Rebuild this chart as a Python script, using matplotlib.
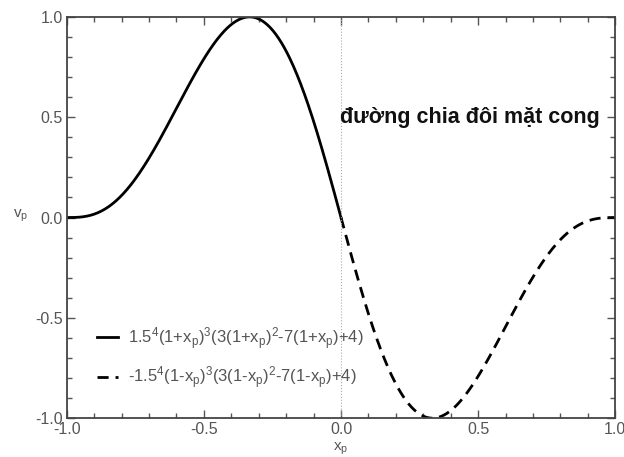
import numpy as np
import matplotlib
matplotlib.use("Agg")
import matplotlib.pyplot as plt
from matplotlib.ticker import MultipleLocator

plt.rcParams['font.family'] = ['Liberation Sans', 'DejaVu Sans']
plt.rcParams['mathtext.fontset'] = 'custom'
plt.rcParams['mathtext.rm'] = 'Liberation Sans'
plt.rcParams['mathtext.it'] = 'Liberation Sans'

# curve shape stated in the legend: v_p over the left and right halves
x_left = np.linspace(-1.0, 0.0, 300)
x_right = np.linspace(0.0, 1.0, 300)
v_left = 1.5**4 * (1 + x_left)**3 * (3*(1 + x_left)**2 - 7*(1 + x_left) + 4)
v_right = -1.5**4 * (1 - x_right)**3 * (3*(1 - x_right)**2 - 7*(1 - x_right) + 4)

lab_left = r"1.5$^\mathrm{4}$(1+x$_\mathrm{p}$)$^\mathrm{3}$(3(1+x$_\mathrm{p}$)$^\mathrm{2}$-7(1+x$_\mathrm{p}$)+4)"
lab_right = r"-1.5$^\mathrm{4}$(1-x$_\mathrm{p}$)$^\mathrm{3}$(3(1-x$_\mathrm{p}$)$^\mathrm{2}$-7(1-x$_\mathrm{p}$)+4)"
note = "đường chia đôi mặt cong"

GREY = "#555555"
fig = plt.figure(figsize=(6.24, 4.57), dpi=100)
ax = fig.add_axes([0.107, 0.085, 0.879, 0.878])

ax.plot(x_left, v_left, color="k", lw=2.0, label=lab_left)
ax.plot(x_right, v_right, color="k", lw=2.0, ls=(0, (4, 2.5)), label=lab_right)
ax.axvline(0, color="#aaaaaa", lw=0.8, ls=":")

ax.set_xlim(-1, 1); ax.set_ylim(-1, 1)
ax.xaxis.set_major_locator(MultipleLocator(0.5))
ax.xaxis.set_minor_locator(MultipleLocator(0.1))
ax.yaxis.set_major_locator(MultipleLocator(0.5))
ax.yaxis.set_minor_locator(MultipleLocator(0.1))
ax.tick_params(which="both", direction="in", top=True, right=True,
               colors=GREY, labelsize=11.5, width=1.0, pad=3)
ax.tick_params(which="major", length=6)
ax.tick_params(which="minor", length=3.5)
ax.set_xticklabels([f"{t:.1f}" for t in ax.get_xticks()])
ax.set_yticklabels([f"{t:.1f}" for t in ax.get_yticks()])
for s in ax.spines.values():
    s.set_color("#444444"); s.set_linewidth(1.3)

ax.set_xlabel(r"x$_\mathrm{p}$", color=GREY, fontsize=11)
ax.xaxis.set_label_coords(0.5, -0.055)
ax.set_ylabel(r"v$_\mathrm{p}$", color=GREY, fontsize=11, rotation=0,
              va="center")
ax.yaxis.set_label_coords(-0.085, 0.505)

ax.text(-0.005, 0.5, note, fontsize=15.5, fontweight="bold", color="#111111",
        va="center", ha="left")

leg = ax.legend(loc="upper left", bbox_to_anchor=(0.055, 0.232), frameon=False,
                fontsize=12, handlelength=1.25, handletextpad=0.6,
                labelspacing=0.8, borderpad=0, borderaxespad=0)
for t in leg.get_texts():
    t.set_color(GREY)

fig.savefig("out.png", dpi=100)
